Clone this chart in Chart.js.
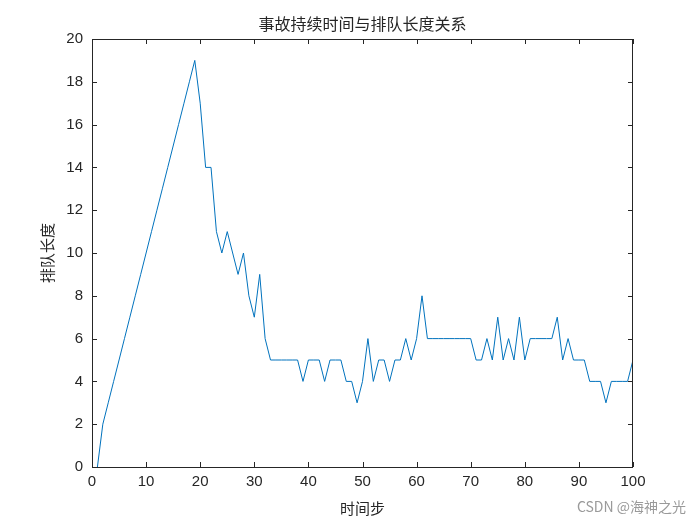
<!DOCTYPE html>
<html>
<head>
<meta charset="utf-8">
<script src="https://cdn.jsdelivr.net/npm/chart.js@4/dist/chart.umd.min.js"></script>
<style>
  html, body { margin: 0; padding: 0; background: #fff; }
  #wrap { width: 700px; height: 525px; }
</style>
</head>
<body>
<div id="wrap"><canvas id="c"></canvas></div>
<script>
const steps = Array.from({ length: 100 }, (_, i) => i + 1)
const queueLen = [
  0, 2, 3, 4, 5, 6, 7, 8, 9, 10,
  11, 12, 13, 14, 15, 16, 17, 18, 19, 17,
  14, 14, 11, 10, 11, 10, 9, 10, 8, 7,
  9, 6, 5, 5, 5, 5, 5, 5, 4, 5,
  5, 5, 4, 5, 5, 5, 4, 4, 3, 4,
  6, 4, 5, 5, 4, 5, 5, 6, 5, 6,
  8, 6, 6, 6, 6, 6, 6, 6, 6, 6,
  5, 5, 6, 5, 7, 5, 6, 5, 7, 5,
  6, 6, 6, 6, 6, 7, 5, 6, 5, 5,
  5, 4, 4, 4, 3, 4, 4, 4, 4, 5
]
const xTicks = [0, 10, 20, 30, 40, 50, 60, 70, 80, 90, 100]
const yTicks = [0, 2, 4, 6, 8, 10, 12, 14, 16, 18, 20]
const titleText = "事故持续时间与排队长度关系"
const xLabel = "时间步"
const yLabel = "排队长度"
const watermark = "CSDN @海神之光"

const cjk = '"SimSun", "Noto Sans CJK SC", serif'

const decor = {
  id: "decor",
  afterDraw(chart) {
    const { ctx, chartArea: a, scales } = chart
    ctx.save()
    ctx.strokeStyle = "#262626"
    ctx.lineWidth = 1
    ctx.strokeRect(a.left + 0.5, a.top + 0.5, a.right - a.left - 1, a.bottom - a.top)
    ctx.beginPath()
    xTicks.forEach(v => {
      const x = Math.round(scales.x.getPixelForValue(v)) + 0.5
      ctx.moveTo(x, a.bottom); ctx.lineTo(x, a.bottom - 5)
      ctx.moveTo(x, a.top); ctx.lineTo(x, a.top + 5)
    })
    yTicks.forEach(v => {
      const y = Math.round(scales.y.getPixelForValue(v)) + 0.5
      ctx.moveTo(a.left, y); ctx.lineTo(a.left + 5, y)
      ctx.moveTo(a.right, y); ctx.lineTo(a.right - 5, y)
    })
    ctx.stroke()
    ctx.fillStyle = "#262626"
    ctx.textAlign = "center"
    ctx.font = "16px " + cjk
    ctx.fillText(titleText, (a.left + a.right) / 2, 30)
    ctx.font = "15px " + cjk
    ctx.fillText(xLabel, (a.left + a.right) / 2, 514)
    ctx.save()
    ctx.translate(53, (a.top + a.bottom) / 2)
    ctx.rotate(-Math.PI / 2)
    ctx.fillText(yLabel, 0, 0)
    ctx.restore()
    ctx.fillStyle = "#9a9a9a"
    ctx.textAlign = "right"
    ctx.font = "14px " + cjk
    ctx.fillText(watermark, 686, 512)
    ctx.restore()
  }
}

new Chart(document.getElementById("c"), {
  type: "line",
  data: {
    labels: steps,
    datasets: [{
      data: queueLen,
      borderColor: "#0072BD",
      borderWidth: 1,
      pointRadius: 0,
      tension: 0,
      fill: false
    }]
  },
  options: {
    responsive: true,
    maintainAspectRatio: false,
    animation: false,
    layout: { padding: { left: 0, right: 67, top: 39, bottom: 0 } },
    plugins: { legend: { display: false }, tooltip: { enabled: false } },
    scales: {
      x: {
        type: "linear", min: 0, max: 100,
        afterBuildTicks: s => { s.ticks = xTicks.map(v => ({ value: v })) },
        afterFit: s => { s.height = 58 },
        grid: { display: false, drawTicks: false },
        border: { display: false },
        ticks: { color: "#262626", padding: 6, maxRotation: 0, font: { family: "Arial, Liberation Sans", size: 15 } }
      },
      y: {
        min: 0, max: 20,
        afterBuildTicks: s => { s.ticks = yTicks.map(v => ({ value: v })) },
        afterFit: s => { s.width = 92 },
        grid: { display: false, drawTicks: false },
        border: { display: false },
        ticks: { color: "#262626", padding: 9, font: { family: "Arial, Liberation Sans", size: 15 } }
      }
    }
  },
  plugins: [decor]
})
</script>
</body>
</html>
